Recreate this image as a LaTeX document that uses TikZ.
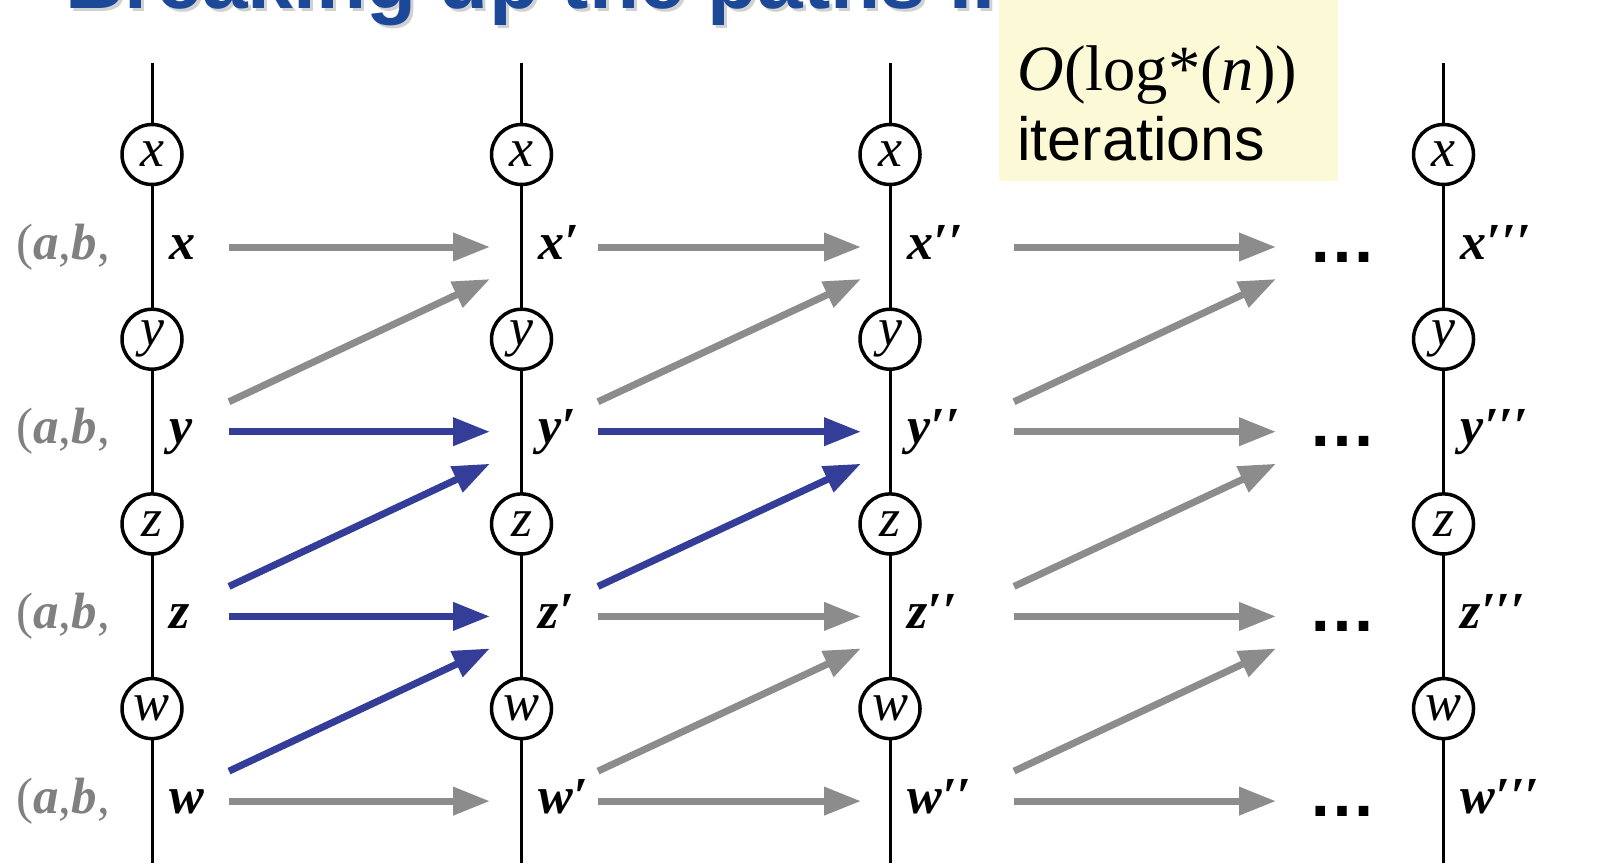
\documentclass[tikz,border=0pt]{standalone}
\usepackage{fontspec}
\setmainfont{Liberation Serif}
\newfontfamily\arialf{Liberation Sans}
\usetikzlibrary{arrows.meta}
\definecolor{titleblue}{RGB}{28,72,152}
\definecolor{arrgray}{RGB}{140,140,140}
\definecolor{arrblue}{RGB}{52,62,152}
\definecolor{labgray}{RGB}{128,128,128}
\definecolor{boxyellow}{RGB}{252,249,214}
\begin{document}
\begin{tikzpicture}[x=0.5pt,y=-0.5pt,
  vline/.style={line width=1.5pt},
  vert/.style={circle,draw,line width=1.75pt,fill=white,minimum size=30pt,inner sep=0pt,
    font=\fontsize{27}{27}\selectfont\itshape},
  lab/.style={anchor=base west,inner sep=0pt,font=\fontsize{26}{26}\selectfont\bfseries\itshape},
  ablab/.style={anchor=base west,inner sep=0pt,text=labgray,font=\fontsize{25.5}{25.5}\selectfont},
  dotlab/.style={anchor=base west,inner sep=0pt,font=\arialf\bfseries\fontsize{34}{34}\selectfont},
  titletext/.style={anchor=base west,inner sep=0pt,text=titleblue,font=\arialf\bfseries\fontsize{41}{41}\selectfont},
  garrow/.style={draw=arrgray,line width=3.5pt,-{Triangle[length=18.5pt,width=13.5pt]}},
  barrow/.style={garrow,draw=arrblue}]
\useasboundingbox (0,0) rectangle (1598,863);
\clip (0,0) rectangle (1598,863);
% title
\node[titletext,text=black!18] (titleshadow) at (68,11) {Breaking up the paths II};
\node[titletext] (title) at (65,8) {Breaking up the paths II};
% box
\node[fill=boxyellow,anchor=north west,minimum width=169.5pt,minimum height=90.5pt,inner sep=0pt] (box) at (999,0) {};
\node[anchor=base west,inner sep=0pt,font=\fontsize{32.3}{32.3}\selectfont] (olog) at (1017,90) {\textit{O}(log*(\textit{n}))};
\node[anchor=base west,inner sep=0pt,font=\arialf\fontsize{30.5}{30.5}\selectfont] (iter) at (1017,160) {iterations};
% columns
\foreach \cx/\pr [count=\i] in {152/,521.5/′,890/′′,1443.5/′′′} {
  \coordinate (top\i) at (\cx,63);
  \coordinate (bot\i) at (\cx,863);
  \draw[vline] (top\i) -- (bot\i);
  \foreach \v [count=\r] in {x,y,z,w} {
    \pgfmathsetmacro\cy{154.5+184.7*(\r-1)}
    \pgfmathsetmacro\ry{259+184.7*(\r-1)}
    \node[vert] (c\i\v) at (\cx,\cy) {\v};
    \node[lab] (l\i\v) at (\cx+17,\ry) {\v\pr};
  }
}
% left labels and dots
\foreach \r in {1,...,4} {
  \pgfmathsetmacro\ry{259+184.7*(\r-1)}
  \node[ablab] (ab\r) at (16,\ry) {(\textbf{\textit{a}},\textbf{\textit{b}},};
  \node[dotlab] (dots\r) at (1308,\ry+3) {…};
}
% arrow end points
\foreach \sx/\ex [count=\s] in {229/490,598/861,1014/1276} {
  \foreach \r in {1,...,4} {
    \pgfmathsetmacro\ay{247+184.7*(\r-1)}
    \coordinate (hs\s\r) at (\sx,\ay);
    \coordinate (he\s\r) at (\ex,\ay);
    \coordinate (ds\s\r) at (\sx,\ay-30);
    \coordinate (de\s\r) at (\ex,\ay+32);
  }
}
\foreach \s/\r/\st in {1/1/garrow,1/2/barrow,1/3/barrow,1/4/garrow,
  2/1/garrow,2/2/barrow,2/3/garrow,2/4/garrow,
  3/1/garrow,3/2/garrow,3/3/garrow,3/4/garrow}
  \draw[\st] (hs\s\r) -- (he\s\r);
\foreach \s/\r/\q/\st in {1/2/1/garrow,1/3/2/barrow,1/4/3/barrow,
  2/2/1/garrow,2/3/2/barrow,2/4/3/garrow,
  3/2/1/garrow,3/3/2/garrow,3/4/3/garrow}
  \draw[\st] (ds\s\r) -- (de\s\q);
\end{tikzpicture}
\end{document}
